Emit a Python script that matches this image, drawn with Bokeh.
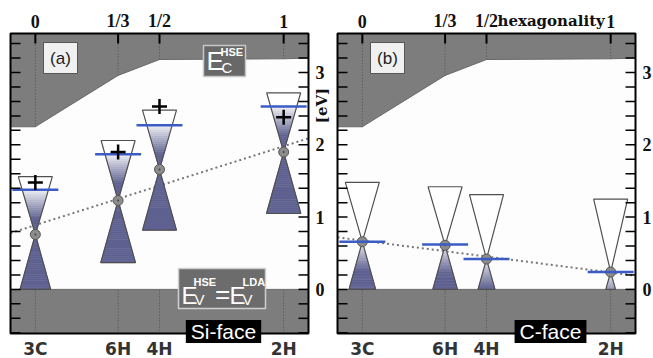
import math
from bokeh.plotting import figure
from bokeh.models import Label, BoxAnnotation, Range1d
from bokeh.layouts import row
from bokeh.embed import file_html
from bokeh.resources import INLINE

# ---------------- data ----------------
polytypes = ["3C", "6H", "4H", "2H"]
hexagonality = [0.0, 1 / 3, 1 / 2, 1.0]
hex_labels = ["0", "1/3", "1/2", "1"]

band_x = [-0.1, 0.0, 1 / 3, 1 / 2, 1.0, 1.1]
cbm_hse = [2.25, 2.25, 2.96, 3.18, 3.19, 3.20]   # E_C^HSE
vbm = 0.0                                         # E_V^HSE = E_V^LDA

# (a) Si-face
si_dirac = [0.76, 1.23, 1.66, 1.90]
si_top = [1.56, 2.06, 2.48, 2.72]
si_bottom = [0.0, 0.37, 0.82, 1.05]
si_fermi = [1.38, 1.87, 2.27, 2.53]
si_plus = [1.48, 1.90, 2.53, 2.38]
si_trend = [0.78, 2.09]

# (b) C-face
c_dirac = [0.66, 0.61, 0.42, 0.24]
c_top = [1.48, 1.42, 1.31, 1.25]
c_bottom = [0.0, 0.0, 0.0, 0.0]
c_fermi = [0.66, 0.62, 0.42, 0.24]
c_trend = [0.72, 0.19]

trend_x = [-0.1, 1.1]
energy_ticks = [0, 1, 2, 3]
energy_tick_labels = ["0", "1", "2", "3"]
energy_minor = [round(-0.6 + 0.2 * i, 1) for i in range(21)]

# ---------------- geometry / style ----------------
X0, X1 = -0.1, 1.1
Y0, Y1 = -0.61, 3.54
H = 358
FRAME_W, FRAME_H = 298, 300
TOP_B, BOT_B = 33, 25
PX_X = FRAME_W / (X1 - X0)
PX_Y = FRAME_H / (Y1 - Y0)

BAND = "#7d7d7d"
PURPLE = (95, 98, 145)
BLUE = "#3b5cc4"
UP_HALF = 17 / PX_X
LOW_SLOPE = 20.2 / PX_X
FERMI_HALF = 23 / PX_X
SERIF = "DejaVu Serif"
TIMES = "Liberation Serif"
SANS = "Liberation Sans"


def dx(px):
    return px / PX_X


def dy(px):
    return px / PX_Y


def mix(t):
    r = int(round(255 + (PURPLE[0] - 255) * t))
    g = int(round(255 + (PURPLE[1] - 255) * t))
    b = int(round(255 + (PURPLE[2] - 255) * t))
    return "#%02x%02x%02x" % (r, g, b)


def shade(e, fermi):
    if e >= fermi:
        return 0.0
    return min(1.0, 0.1 + 0.9 * (fermi - e) / 0.4)


def cone_slices(xc, apex, end, half_end, fermi, n=30):
    xs, ys, cols = [], [], []
    for i in range(n):
        ea = apex + (end - apex) * i / n
        eb = apex + (end - apex) * (i + 1) / n
        wa = half_end * i / n
        wb = half_end * (i + 1) / n
        xs.append([xc - wa, xc + wa, xc + wb, xc - wb])
        ys.append([ea, ea, eb, eb])
        cols.append(mix(shade(0.5 * (ea + eb), fermi)))
    return xs, ys, cols


def txt(p, x, y, text, font=SANS, size=15, style="normal", color="#111111",
        align="left", angle=0.0, **kw):
    # y is the vertical centre of the text
    p.add_layout(Label(x=x, y=y, text=text, text_font=font, text_font_size=f"{size}px",
                       text_font_style=style, text_color=color, text_align=align,
                       text_baseline="middle", angle=angle, **kw))


def make_panel(width, bl, dirac, top, bottom, fermi, trend, tag, face, plus=None,
               show_hex=False, show_ev=False):
    br = width - bl - FRAME_W
    p = figure(width=width, height=H,
               x_range=Range1d(X0 - dx(bl), X1 + dx(br)),
               y_range=Range1d(Y0 - dy(BOT_B), Y1 + dy(TOP_B)),
               output_backend="svg", toolbar_location=None,
               x_axis_location=None, y_axis_location=None,
               min_border=0)
    p.grid.visible = False
    p.background_fill_color = "white"
    p.border_fill_color = "white"
    p.outline_line_color = None

    # frame background
    p.quad(left=[X0], right=[X1], bottom=[Y0], top=[Y1], fill_color="#fdfdfd", line_color=None)

    # bands
    p.varea(x=band_x, y1=cbm_hse, y2=[Y1] * len(band_x), fill_color=BAND)
    p.line(band_x, cbm_hse, line_color="#6a6a6a", line_width=1)
    p.varea(x=[X0, X1], y1=[Y0] * 2, y2=[vbm] * 2, fill_color=BAND)
    p.line([X0, X1], [vbm, vbm], line_color="#6a6a6a", line_width=1)

    # dotted guide lines inside bands
    ec_at = cbm_hse[1:5]
    p.segment(x0=hexagonality, y0=ec_at, x1=hexagonality, y1=[Y1] * 4,
              line_color="#505050", line_width=1, line_dash="1 2")
    p.segment(x0=hexagonality, y0=[Y0] * 4, x1=hexagonality, y1=[vbm] * 4,
              line_color="#505050", line_width=1, line_dash="1 2")

    # trend line
    p.line(trend_x, trend, line_color="#777777", line_width=2, line_dash="2 3")

    # cones
    all_xs, all_ys, all_cols = [], [], []
    out_xs, out_ys = [], []
    for h, d, t, b, f in zip(hexagonality, dirac, top, bottom, fermi):
        xs, ys, cs = cone_slices(h, d, t, UP_HALF, f)
        all_xs += xs; all_ys += ys; all_cols += cs
        lw = LOW_SLOPE * (d - b)
        xs, ys, cs = cone_slices(h, d, b, lw, f)
        all_xs += xs; all_ys += ys; all_cols += cs
        out_xs.append([h - UP_HALF, h + UP_HALF, h])
        out_ys.append([t, t, d])
        out_xs.append([h - lw, h + lw, h])
        out_ys.append([b, b, d])
    p.patches(all_xs, all_ys, fill_color=all_cols, line_color=all_cols, line_width=0.6)
    p.patches(out_xs, out_ys, fill_color=None, line_color="#505050", line_width=1.2)

    # Dirac points
    p.scatter(hexagonality, dirac, size=10, fill_color="#8c8c8c", line_color="#555555", line_width=1)
    p.scatter(hexagonality, dirac, size=2, fill_color="#444444", line_color=None)

    # Fermi levels
    p.segment(x0=[h - FERMI_HALF for h in hexagonality], y0=fermi,
              x1=[h + FERMI_HALF for h in hexagonality], y1=fermi,
              line_color=BLUE, line_width=2.5)

    if plus is not None:
        p.scatter(hexagonality, plus, marker="cross", size=15, line_color="black", line_width=2.5)

    # inward ticks
    p.ray(x=[X0] * len(energy_minor), y=energy_minor, length=10, length_units="screen",
          angle=0, line_color="black", line_width=1.5)
    p.ray(x=[X1] * len(energy_minor), y=energy_minor, length=10, length_units="screen",
          angle=math.pi, line_color="black", line_width=1.5)
    p.ray(x=hexagonality, y=[Y1] * 4, length=10, length_units="screen",
          angle=-math.pi / 2, line_color="black", line_width=2)

    # frame
    p.quad(left=[X0], right=[X1], bottom=[Y0], top=[Y1], fill_color=None,
           line_color="black", line_width=2)

    # tick labels
    for h, lab in zip(hexagonality, hex_labels):
        txt(p, h, Y1 + dy(12.5), lab, font=TIMES, size=18, style="bold", align="center")
    for h, lab in zip(hexagonality, polytypes):
        txt(p, h, Y0 - dy(15), lab, font="DejaVu Sans", size=17, style="bold",
            color="#333333", align="center")
    for e, lab in zip(energy_ticks, energy_tick_labels):
        txt(p, X1 + dx(7), e, lab, font=TIMES, size=18, style="bold")

    # tag box
    p.add_layout(BoxAnnotation(left=X0 + dx(33), right=X0 + dx(67), top=Y1 - dy(9),
                               bottom=Y1 - dy(40), fill_color="#f0f0f0", fill_alpha=1,
                               line_color="#555555", line_width=1, line_alpha=1))
    txt(p, X0 + dx(50), Y1 - dy(24.5), tag, size=17, color="#222222", align="center")

    # face label
    txt(p, X0 + dx(213), Y0 - dy(-2), face, size=21, color="white", align="center",
        background_fill_color="black", background_fill_alpha=1,
        padding=dict(left=5, right=5, top=0, bottom=0))

    if show_ev:
        # E_C^HSE box
        p.add_layout(BoxAnnotation(left=X0 + dx(193), right=X0 + dx(235), top=Y1 - dy(12),
                                   bottom=Y1 - dy(43), fill_color="#686868", fill_alpha=1,
                                   line_color="#c8c8c8", line_width=1.5, line_alpha=1))
        txt(p, X0 + dx(196), Y1 - dy(27.5), "E", size=26, color="white")
        txt(p, X0 + dx(210), Y1 - dy(18), "HSE", size=11, style="bold", color="white")
        txt(p, X0 + dx(211), Y1 - dy(34), "C", size=15, color="white")
        # E_V^HSE = E_V^LDA box
        p.add_layout(BoxAnnotation(left=X0 + dx(168), right=X0 + dx(255), top=Y0 + dy(65),
                                   bottom=Y0 + dy(25), fill_color="#6c6c6c", fill_alpha=1,
                                   line_color="#d0d0d0", line_width=1.5, line_alpha=1))
        for off in (171, 219):
            txt(p, X0 + dx(off), Y0 + dy(38.5), "E", size=24, color="white")
            txt(p, X0 + dx(off + 13), Y0 + dy(34.5), "V", size=15, color="white")
        txt(p, X0 + dx(183), Y0 + dy(52), "HSE", size=11, style="bold", color="white")
        txt(p, X0 + dx(232), Y0 + dy(52), "LDA", size=11, style="bold", color="white")
        txt(p, X0 + dx(212), Y0 + dy(40), "=", size=26, color="white", align="center")
        # [eV]
        txt(p, X1 + dx(13), Y1 - dy(72), "[eV]", font=SERIF, size=15, style="bold",
            align="center", angle=math.pi / 2)
    if show_hex:
        txt(p, X0 + dx(160), Y1 + dy(12.5), "hexagonality", font=SERIF, size=15,
            style="bold")
    return p


pa = make_panel(333, 10, si_dirac, si_top, si_bottom, si_fermi, si_trend, "(a)", "Si-face",
                plus=si_plus, show_ev=True)
pb = make_panel(320, 4, c_dirac, c_top, c_bottom, c_fermi, c_trend, "(b)", "C-face",
                show_hex=True)

layout = row(pa, pb)
open("out.html", "w").write(file_html(layout, INLINE))
